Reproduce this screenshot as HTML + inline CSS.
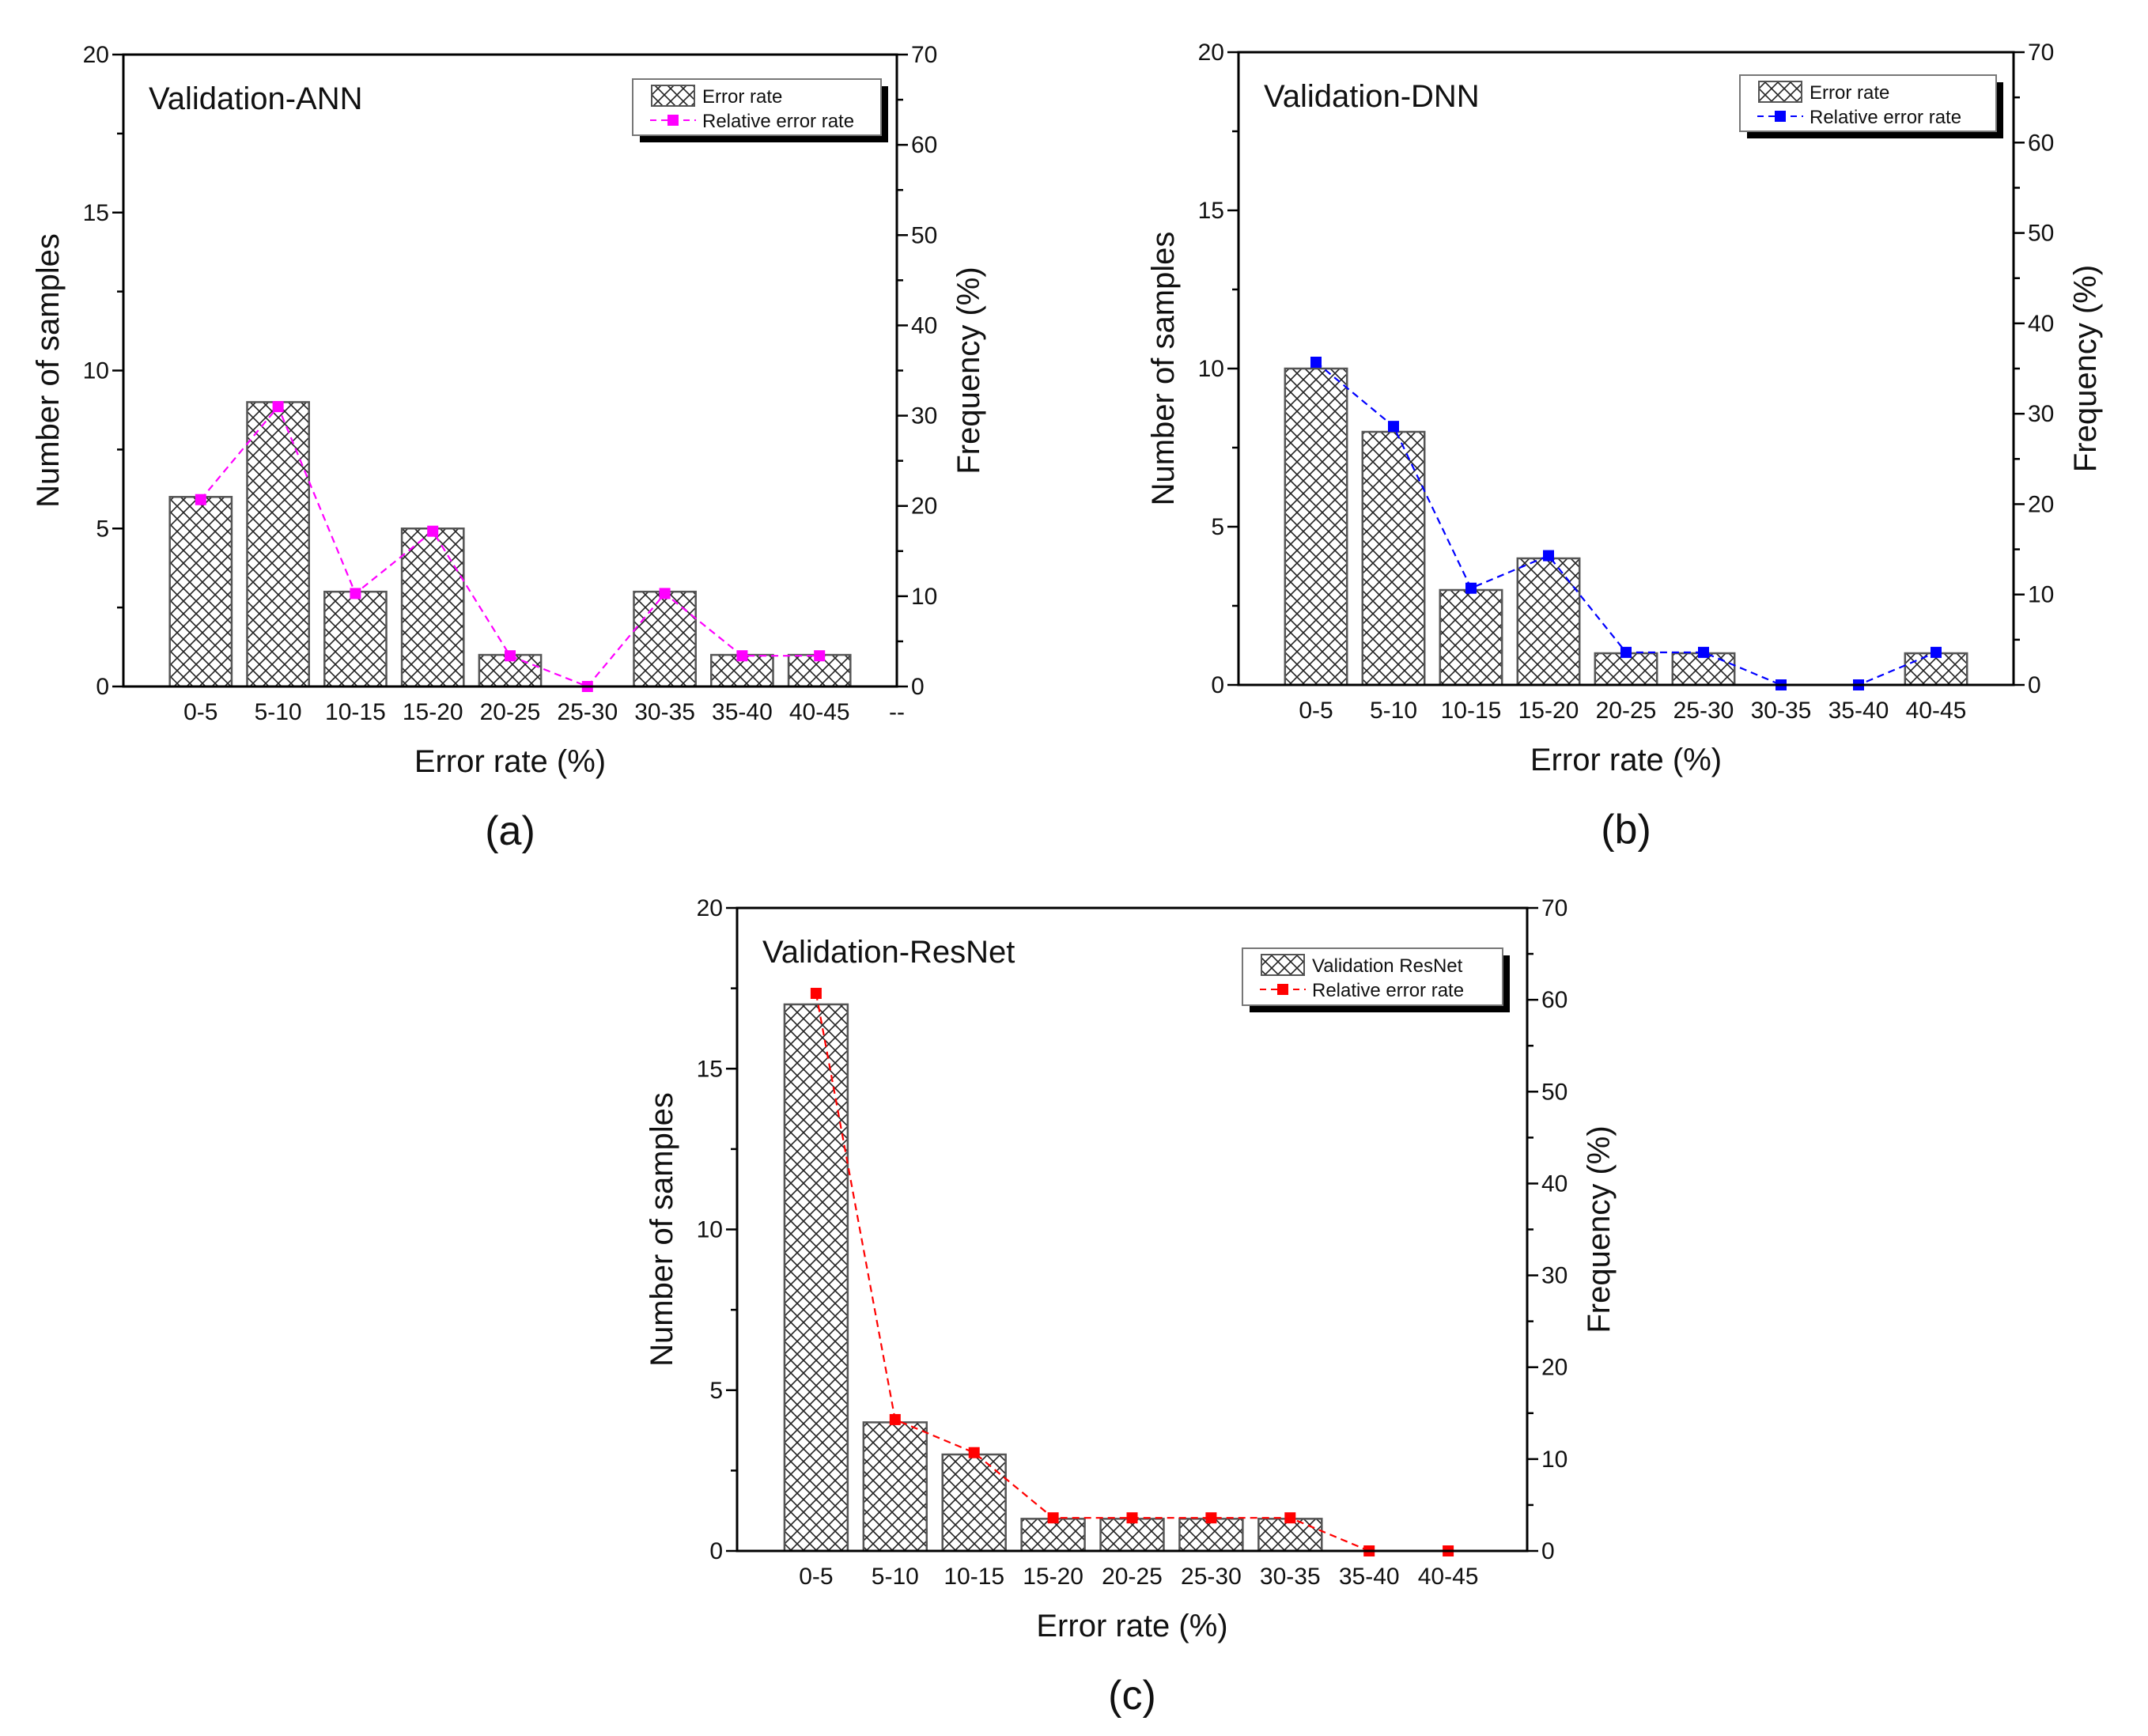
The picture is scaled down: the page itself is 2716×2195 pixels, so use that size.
<!DOCTYPE html>
<html><head><meta charset="utf-8"><style>
html,body{margin:0;padding:0;background:#fff;}
svg{display:block;font-family:"Liberation Sans",Arial,sans-serif;}
</style></head><body>
<svg id="fig" width="2716" height="2195" viewBox="0 0 2716 2195" xmlns="http://www.w3.org/2000/svg">
<defs>
<pattern id="hatch" patternUnits="userSpaceOnUse" width="16" height="16">
<rect width="16" height="16" fill="#fff"/>
<path d="M0,0 L16,16 M16,0 L0,16" stroke="#222" stroke-width="1.6"/>
</pattern>
</defs>
</svg>
<script>
const categories = ["0-5","5-10","10-15","15-20","20-25","25-30","30-35","35-40","40-45"];
const annCounts = [6,9,3,5,1,0,3,1,1];
const annFreq = [20.7,31,10.3,17.2,3.4,0,10.3,3.4,3.4];
const dnnCounts = [10,8,3,4,1,1,0,0,1];
const dnnFreq = [35.7,28.6,10.7,14.3,3.6,3.6,0,0,3.6];
const resCounts = [17,4,3,1,1,1,1,0,0];
const resFreq = [60.7,14.3,10.7,3.6,3.6,3.6,3.6,0,0];
const leftTicks = [0,5,10,15,20];
const rightTicks = [0,10,20,30,40,50,60,70];

const NS = "http://www.w3.org/2000/svg";
const svg = document.getElementById('fig');
function mk(tag, attrs, parent, text){
  const e = document.createElementNS(NS, tag);
  for (const k in attrs) e.setAttribute(k, attrs[k]);
  if (text !== undefined) e.textContent = text;
  (parent||svg).appendChild(e);
  return e;
}

function panel(p){
  const g = mk('g', {});
  
  
  const L=p.L, R=p.R, T=p.T, B=p.B;
  const xs = i => L + (R-L)*(i+1)/10;
  const yl = v => B - (B-T)*v/20;
  const yr = v => B - (B-T)*v/70;
  const bw = (R-L)/10*0.8;
  p.counts.forEach((c,i)=>{
    if (c<=0) return;
    const r = mk('rect',{x:xs(i)-bw/2,y:yl(c),width:bw,height:yl(0)-yl(c),fill:'url(#hatch)',stroke:'#555','stroke-width':2.5},g);
    
    
  });
  const pts = p.freq.map((f,i)=>xs(i)+','+yr(f)).join(' ');
  const pl = mk('polyline',{points:pts,fill:'none',stroke:p.color,'stroke-width':2.2,'stroke-dasharray':'9,6'},g);
  
  
  p.freq.forEach((f,i)=>{
    const m = mk('rect',{x:xs(i)-7,y:yr(f)-7,width:14,height:14,fill:p.color},g);
    
    
  });
  const fr = mk('rect',{x:L,y:T,width:R-L,height:B-T,fill:'none',stroke:'#000','stroke-width':3},g);
  
  
  for (let v=0; v<=20; v+=2.5){
    const major = v%5===0;
    mk('line',{x1:L,x2:L-(major?14:8),y1:yl(v),y2:yl(v),stroke:'#000','stroke-width':2.5},g);
  }
  leftTicks.forEach(v=>{
    const t = mk('text',{x:L-18,y:yl(v)+10,'font-size':30,'text-anchor':'end',fill:'#111'},g,String(v));
    
    
  });
  for (let v=0; v<=70; v+=5){
    const major = v%10===0;
    mk('line',{x1:R,x2:R+(major?14:8),y1:yr(v),y2:yr(v),stroke:'#000','stroke-width':2.5},g);
  }
  rightTicks.forEach(v=>{
    const t = mk('text',{x:R+18,y:yr(v)+10,'font-size':30,'text-anchor':'start',fill:'#111'},g,String(v));
    
    
  });
  categories.forEach((c,i)=>{
    const t = mk('text',{x:xs(i),y:B+42,'font-size':30,'text-anchor':'middle',fill:'#111'},g,c);
    
    
  });
  if (p.dash){ mk('text',{x:R,y:B+42,'font-size':30,'text-anchor':'middle',fill:'#111'},g,'--'); }
  const tt = mk('text',{x:L+32,y:T+69,'font-size':40,fill:'#111'},g,p.title);
  
  
  const yt = mk('text',{x:0,y:0,'font-size':40,'text-anchor':'middle',fill:'#111',transform:`translate(${L-82},${(T+B)/2}) rotate(-90)`},g,'Number of samples');
  
  
  const yt2 = mk('text',{x:0,y:0,'font-size':40,'text-anchor':'middle',fill:'#111',transform:`translate(${R+104},${(T+B)/2}) rotate(-90)`},g,'Frequency (%)');
  
  
  const xt = mk('text',{x:(L+R)/2,y:B+108,'font-size':40,'text-anchor':'middle',fill:'#111'},g,'Error rate (%)');
  
  
  const pt = mk('text',{x:(L+R)/2,y:B+200,'font-size':52,'text-anchor':'middle',fill:'#111'},g,p.label);
  
  
  const lg = mk('g',{},g);
  
  
  const [lx,ly,lw,lh] = p.leg;
  mk('rect',{x:lx+9,y:ly+9,width:lw,height:lh,fill:'#000'},lg);
  mk('rect',{x:lx,y:ly,width:lw,height:lh,fill:'#fff',stroke:'#777','stroke-width':2},lg);
  mk('rect',{x:lx+24,y:ly+8,width:54,height:26,fill:'url(#hatch)',stroke:'#555','stroke-width':2},lg);
  mk('text',{x:lx+88,y:ly+30,'font-size':24,fill:'#111'},lg,p.leg1);
  mk('line',{x1:lx+22,x2:lx+80,y1:ly+52,y2:ly+52,stroke:p.color,'stroke-width':2,'stroke-dasharray':'8,6'},lg);
  mk('rect',{x:lx+44,y:ly+45,width:14,height:14,fill:p.color},lg);
  mk('text',{x:lx+88,y:ly+61,'font-size':24,fill:'#111'},lg,'Relative error rate');
}

panel({id:'ann',L:156,R:1134,T:69,B:868,counts:annCounts,freq:annFreq,color:'#ff00ff',title:'Validation-ANN',label:'(a)',leg:[800,100,314,71],leg1:'Error rate',dash:true});
panel({id:'dnn',L:1566,R:2546,T:66,B:866,counts:dnnCounts,freq:dnnFreq,color:'#0000ff',title:'Validation-DNN',label:'(b)',leg:[2200,95,324,71],leg1:'Error rate',dash:false});
panel({id:'resnet',L:932,R:1931,T:1148,B:1961,counts:resCounts,freq:resFreq,color:'#ff0000',title:'Validation-ResNet',label:'(c)',leg:[1571,1199,329,72],leg1:'Validation ResNet',dash:false});
</script>
</body></html>
